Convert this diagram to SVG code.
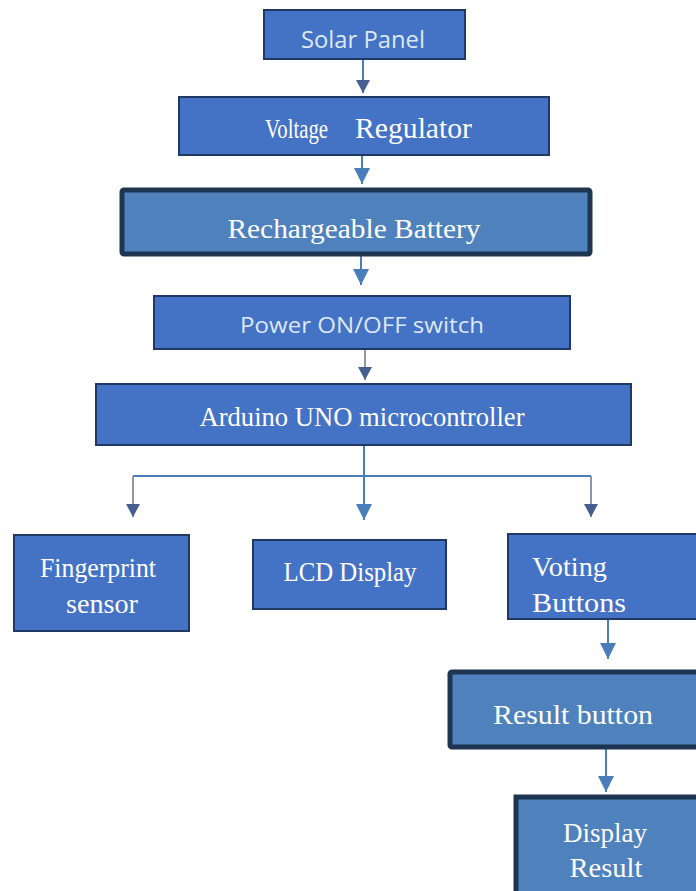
<svg xmlns="http://www.w3.org/2000/svg" width="696" height="891" viewBox="0 0 696 891">
<style>
.box{fill:#4472C4;stroke:#1F3864;stroke-width:2}
.boxL{fill:#4F81BD;stroke:#1E3552;stroke-width:5}
.serif{font-family:"Liberation Serif","Times New Roman",serif;fill:#ffffff}
.sans{font-family:"Open Sans","Noto Sans",sans-serif;fill:#dde8f5}
.ln{stroke:#4A7EBB;stroke-width:2;fill:none}
.lg{stroke:#8d99ab;stroke-width:2;fill:none}
</style>
<defs>
<marker id="ah" markerUnits="userSpaceOnUse" markerWidth="18" markerHeight="18" refX="16" refY="8" orient="auto">
<path d="M0,0 L16,8 L0,16 z" fill="#4A7EBB"/>
</marker>
<marker id="ahd" markerUnits="userSpaceOnUse" markerWidth="16" markerHeight="16" refX="13" refY="7" orient="auto">
<path d="M0,0 L13,7 L0,14 z" fill="#445f8e"/>
</marker>
</defs>
<rect width="696" height="891" fill="#ffffff"/>
<g id="connectors">
<line class="ln" x1="363" y1="59" x2="363" y2="93" marker-end="url(#ahd)"/>
<line class="ln" x1="362" y1="140" x2="362" y2="184" marker-end="url(#ah)"/>
<line class="ln" x1="361" y1="250" x2="361" y2="285" marker-end="url(#ah)"/>
<line class="lg" x1="365" y1="349" x2="365" y2="380" marker-end="url(#ahd)"/>
<line class="ln" x1="364" y1="446" x2="364" y2="520" marker-end="url(#ah)"/>
<line class="ln" x1="133" y1="476" x2="591" y2="476"/>
<line class="lg" x1="133" y1="476" x2="133" y2="517" marker-end="url(#ahd)"/>
<line class="lg" x1="591" y1="476" x2="591" y2="517" marker-end="url(#ahd)"/>
<line class="ln" x1="608" y1="619" x2="608" y2="659" marker-end="url(#ah)"/>
<line class="ln" x1="606" y1="748" x2="606" y2="792" marker-end="url(#ah)"/>
</g>
<g id="solar-panel">
<rect class="box" x="264" y="10" width="201" height="49"/>
<text class="sans" x="363" y="48" font-size="23" text-anchor="middle" textLength="124" lengthAdjust="spacingAndGlyphs">Solar Panel</text>
</g>
<g id="voltage-regulator">
<rect class="box" x="179" y="97" width="370" height="58"/>
<text class="serif" x="265" y="138" font-size="28" textLength="63" lengthAdjust="spacingAndGlyphs">Voltage</text>
<text class="serif" x="355" y="138" font-size="29" textLength="117" lengthAdjust="spacingAndGlyphs">Regulator</text>
</g>
<g id="rechargeable-battery">
<rect class="boxL" x="122" y="190" width="468" height="64" rx="2"/>
<text class="serif" x="354" y="238" font-size="28" text-anchor="middle" textLength="253" lengthAdjust="spacingAndGlyphs">Rechargeable Battery</text>
</g>
<g id="power-switch">
<rect class="box" x="154" y="296" width="416" height="53"/>
<text class="sans" x="362" y="333" font-size="22" text-anchor="middle" textLength="244" lengthAdjust="spacingAndGlyphs">Power ON/OFF switch</text>
</g>
<g id="arduino">
<rect class="box" x="96" y="384" width="535" height="61"/>
<text class="serif" x="362" y="426" font-size="27" text-anchor="middle" textLength="325" lengthAdjust="spacingAndGlyphs">Arduino UNO microcontroller</text>
</g>
<g id="fingerprint-sensor">
<rect class="box" x="14" y="535" width="175" height="96"/>
<text class="serif" x="98" y="577" font-size="28" text-anchor="middle" textLength="116" lengthAdjust="spacingAndGlyphs">Fingerprint</text>
<text class="serif" x="102" y="613" font-size="28" text-anchor="middle" textLength="72" lengthAdjust="spacingAndGlyphs">sensor</text>
</g>
<g id="lcd-display">
<rect class="box" x="253" y="540" width="193" height="69"/>
<text class="serif" x="350" y="581" font-size="27" text-anchor="middle" textLength="133" lengthAdjust="spacingAndGlyphs">LCD Display</text>
</g>
<g id="voting-buttons">
<rect class="box" x="508" y="534" width="192" height="85"/>
<text class="serif" x="532" y="576" font-size="28" textLength="75" lengthAdjust="spacingAndGlyphs">Voting</text>
<text class="serif" x="532" y="612" font-size="28" textLength="94" lengthAdjust="spacingAndGlyphs">Buttons</text>
</g>
<g id="result-button">
<rect class="boxL" x="450" y="672" width="252" height="75" rx="2"/>
<text class="serif" x="573" y="724" font-size="27" text-anchor="middle" textLength="160" lengthAdjust="spacingAndGlyphs">Result button</text>
</g>
<g id="display-result">
<rect class="boxL" x="516" y="797" width="186" height="100"/>
<text class="serif" x="605" y="842" font-size="28" text-anchor="middle" textLength="84" lengthAdjust="spacingAndGlyphs">Display</text>
<text class="serif" x="606" y="877" font-size="28" text-anchor="middle" textLength="73" lengthAdjust="spacingAndGlyphs">Result</text>
</g>
</svg>
